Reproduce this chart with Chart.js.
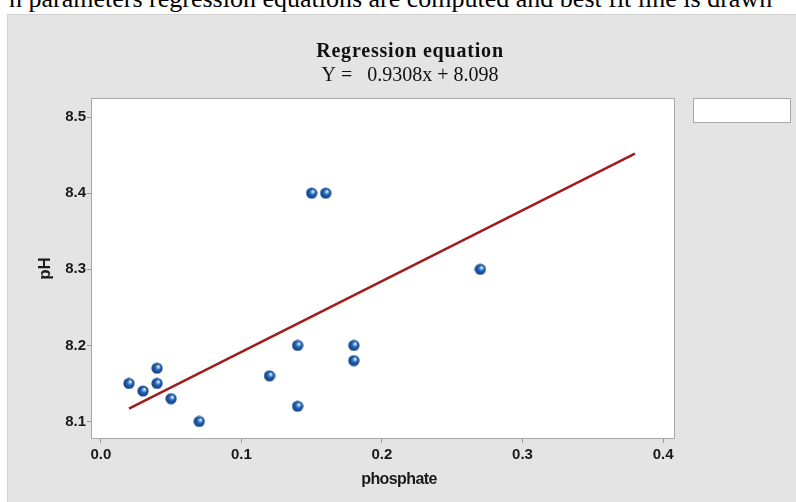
<!DOCTYPE html>
<html>
<head>
<meta charset="utf-8">
<script src="https://cdn.jsdelivr.net/npm/chart.js@4.4.0/dist/chart.umd.min.js"></script>
<style>
  html, body { margin: 0; padding: 0; background: #fff; }
  #wrap { position: relative; width: 796px; height: 502px; overflow: hidden; }
  #caption {
    position: absolute; left: 9px; top: -14px; white-space: nowrap;
    font-family: 'Liberation Serif', 'Times New Roman', serif; font-size: 26px; line-height: 26px; color: #000;
  }
  #panel {
    position: absolute; left: 7px; top: 14px; width: 789px; height: 488px;
    background: #e4e4e4; border-left: 1px solid #d2d2d2; border-top: 1px solid #d2d2d2; box-sizing: border-box;
  }
  #chart { position: absolute; left: 0; top: 0; }
</style>
</head>
<body>
<div id="wrap">
  <div id="caption">n parameters regression equations are computed and best fit line is drawn</div>
  <div id="panel"></div>
  <canvas id="chart" width="796" height="502"></canvas>
</div>
<script>
// scatter data
const phosphate = [0.02, 0.03, 0.04, 0.04, 0.05, 0.07, 0.12, 0.14, 0.14, 0.15, 0.16, 0.18, 0.18, 0.27];
const pH = [8.15, 8.14, 8.17, 8.15, 8.13, 8.10, 8.16, 8.20, 8.12, 8.40, 8.40, 8.20, 8.18, 8.30];

// fitted line end points (Y = 0.9308x + 8.098)
const fitX = [0.02, 0.38];
const fitY = [8.117, 8.452];

const xTicks = [0.0, 0.1, 0.2, 0.3, 0.4];
const yTicks = [8.1, 8.2, 8.3, 8.4, 8.5];

const titleLine1 = 'Regression equation';
const titleLine2 = 'Y =   0.9308x + 8.098';
const xTitle = 'phosphate';

const sans = "'Liberation Sans', Arial, sans-serif";

// little shaded ball for the markers
function makeBall() {
  const c = document.createElement('canvas');
  c.width = 12; c.height = 12;
  const g = c.getContext('2d');
  const grad = g.createRadialGradient(7.6, 4.2, 0.3, 6, 6, 6);
  grad.addColorStop(0, '#ffffff');
  grad.addColorStop(0.2, '#7fb0e6');
  grad.addColorStop(0.45, '#1f62b2');
  grad.addColorStop(1, '#0b3a78');
  g.fillStyle = grad;
  g.beginPath();
  g.arc(6, 6, 5.6, 0, Math.PI * 2);
  g.fill();
  return c;
}

const frame = {
  id: 'frame',
  beforeDraw(chart) {
    const ctx = chart.ctx, a = chart.chartArea;
    ctx.save();
    ctx.fillStyle = '#ffffff';
    ctx.fillRect(a.left, a.top, a.right - a.left, a.bottom - a.top);
    // empty legend box
    ctx.fillRect(693, 98, 98, 25);
    ctx.strokeStyle = '#a8a8a8';
    ctx.lineWidth = 1;
    ctx.strokeRect(693.5, 98.5, 97, 24);
    ctx.restore();
  },
  afterDraw(chart) {
    const ctx = chart.ctx, a = chart.chartArea;
    ctx.save();
    ctx.strokeStyle = '#a8a8a8';
    ctx.lineWidth = 1;
    ctx.strokeRect(a.left + 0.5, a.top + 0.5, a.right - a.left - 1, a.bottom - a.top - 1);
    ctx.fillStyle = '#111';
    ctx.textAlign = 'center';
    ctx.letterSpacing = '0.8px';
    ctx.font = 'bold 20px "Liberation Serif", serif';
    ctx.fillText(titleLine1, 410, 57);
    ctx.letterSpacing = '0px';
    ctx.font = '20px "Liberation Serif", serif';
    ctx.fillText(titleLine2, 410, 81);
    // x axis title
    ctx.fillStyle = '#1a1a1a';
    ctx.letterSpacing = '-0.6px';
    ctx.font = 'bold 16px ' + sans;
    ctx.textBaseline = 'middle';
    ctx.fillText(xTitle, 399, 480);
    ctx.restore();
  }
};

new Chart(document.getElementById('chart'), {
  type: 'scatter',
  data: {
    datasets: [
      {
        label: 'pH',
        data: phosphate.map((x, i) => ({ x: x, y: pH[i] })),
        pointStyle: makeBall(),
        pointRadius: 6,
        order: 1
      },
      {
        label: 'fit',
        data: fitX.map((x, i) => ({ x: x, y: fitY[i] })),
        showLine: true,
        borderColor: '#a01c1c',
        borderWidth: 2.5,
        pointRadius: 0,
        order: 2
      }
    ]
  },
  options: {
    responsive: false,
    animation: false,
    layout: { padding: { top: 98, right: 121, left: 0, bottom: 0 } },
    plugins: { legend: { display: false }, tooltip: { enabled: false } },
    scales: {
      x: {
        type: 'linear',
        min: -0.007,
        max: 0.4085,
        afterBuildTicks: s => { s.ticks = xTicks.map(v => ({ value: v })); },
        afterFit: s => { s.height = 63; },
        grid: { drawOnChartArea: false, drawTicks: true, tickLength: 4, color: '#9a9a9a' },
        border: { display: false },
        ticks: {
          padding: 3,
          color: '#1a1a1a',
          font: { family: sans, weight: 'bold', size: 15 },
          callback: v => v.toFixed(1)
        }
      },
      y: {
        type: 'linear',
        min: 8.077,
        max: 8.525,
        afterBuildTicks: s => { s.ticks = yTicks.map(v => ({ value: v })); },
        afterFit: s => { s.width = 91; },
        grid: { drawOnChartArea: false, drawTicks: true, tickLength: 4, color: '#9a9a9a' },
        border: { display: false },
        ticks: {
          padding: 1,
          color: '#1a1a1a',
          font: { family: sans, weight: 'bold', size: 15 },
          callback: v => v.toFixed(1)
        },
        title: {
          display: true,
          text: 'pH',
          color: '#1a1a1a',
          padding: { top: 35, bottom: 0 },
          font: { family: sans, weight: 'bold', size: 17 }
        }
      }
    }
  },
  plugins: [frame]
});
</script>
</body>
</html>
